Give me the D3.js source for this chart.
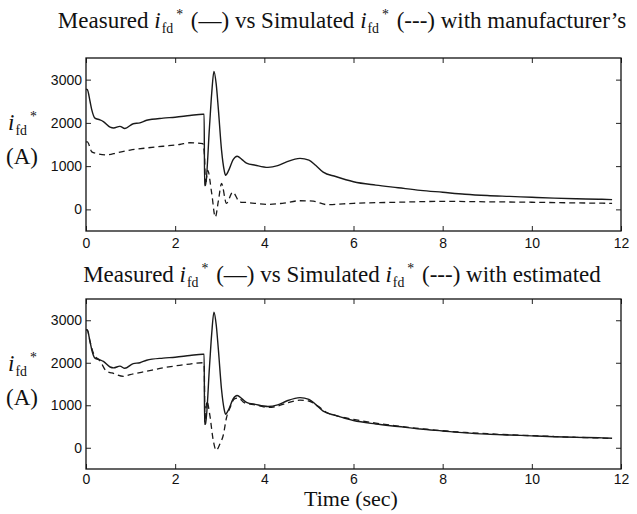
<!DOCTYPE html>
<html>
<head>
<meta charset="utf-8">
<script src="https://cdn.jsdelivr.net/npm/d3@7"></script>
<style>
  body { margin:0; background:#fff; }
  svg { display:block; }
</style>
</head>
<body>
<svg id="svg" width="637" height="514"></svg>
<script>
// measured field current (same record in both panels)
var measuredT=[0,0.03,0.09,0.13,0.2,0.31,0.39,0.54,0.62,0.76,0.87,1.06,1.21,1.36,1.73,2.0,2.33,2.62,2.65,2.66,2.68,2.77,2.82,2.87,2.92,2.97,3.04,3.1,3.13,3.2,3.3,3.39,3.5,3.6,3.8,4.08,4.3,4.5,4.8,5.0,5.15,5.32,5.6,6.0,6.5,7.0,7.5,8.0,8.5,9.0,9.5,10.0,10.5,11.0,11.5,11.8];
var measuredI=[2780,2770,2500,2300,2110,2070,2030,1900,1880,1920,1870,1980,2000,2060,2110,2130,2170,2200,2200,550,560,1910,2690,3190,2900,2300,1370,900,790,900,1150,1230,1150,1070,1020,970,1010,1100,1180,1140,1020,860,760,640,560,500,440,395,350,320,300,280,260,245,235,225];

// simulated with manufacturer's parameters
var simManufT=[0,0.03,0.13,0.24,0.46,0.7,0.99,1.36,1.73,2.1,2.33,2.62,2.66,2.68,2.73,2.82,2.9,2.97,3.04,3.15,3.29,3.45,3.6,4.08,4.4,4.8,5.1,5.4,6.0,7.0,8.0,9.0,10.0,11.0,11.8];
var simManufI=[1560,1560,1330,1290,1260,1310,1370,1420,1460,1500,1540,1520,1200,560,900,370,-180,200,600,140,400,170,160,115,140,200,190,110,140,165,185,175,165,150,140];

// simulated with estimated parameters
var simEstT=[0,0.03,0.09,0.18,0.31,0.46,0.58,0.84,0.99,1.36,1.73,2.1,2.33,2.62,2.65,2.67,2.71,2.78,2.85,2.92,3.0,3.08,3.15,3.23,3.33,3.42,3.55,3.8,4.09,4.3,4.5,4.8,5.0,5.2,5.4,5.7,6.0,6.5,7.0,7.5,8.0,8.5,9.0,9.5,10.0,10.5,11.0,11.5,11.8];
var simEstI=[2780,2770,2500,2190,2050,1800,1760,1680,1720,1800,1880,1940,1970,2000,1950,600,1100,750,200,-60,80,300,700,940,1150,1170,1060,1010,950,980,1050,1120,1100,980,830,730,670,580,510,450,400,360,330,305,285,265,245,230,215];

var xTicks=[0,2,4,6,8,10,12];
var yTicks=[0,1000,2000,3000];
var titleEnds=["with manufacturer\u2019s","with estimated"];

var serif="'Liberation Serif','Times New Roman',serif";
var svg=d3.select("#svg");
var zip=(t,v)=>t.map((d,i)=>[d,v[i]]);

var panels=[
  {top:58,bottom:231,sim:zip(simManufT,simManufI),titleY:28,end:titleEnds[0],pad:7},
  {top:299,bottom:469,sim:zip(simEstT,simEstI),titleY:282,end:titleEnds[1],pad:5}
];

var x=d3.scaleLinear().domain([0,12]).range([86,621]);

//italic i with subscript fd and superscript star, back on baseline afterwards
function ifd(text,size){
  text.append("tspan").attr("font-style","italic").text("i");
  text.append("tspan").attr("font-size",size*0.6).attr("dx",1).attr("dy",size*0.22).text("fd");
  text.append("tspan").attr("font-size",size*0.6).attr("dx",3).attr("dy",-size*0.6).text("*");
}

panels.forEach(p=>{
  var y=d3.scaleLinear().domain([-500,3500]).range([p.bottom,p.top]);
  var g=svg.append("g");

  //title
  var t=svg.append("text")
      .attr("x",342).attr("y",p.titleY)
      .attr("text-anchor","middle")
      .style("font-family",serif)
      .style("font-size","23px").attr("fill","#111");
  t.append("tspan").text("Measured ");
  ifd(t,23);
  t.append("tspan").attr("dy",23*0.38).attr("dx",2).text(" (\u2014) vs Simulated ");
  ifd(t,23);
  t.append("tspan").attr("dy",23*0.38).attr("dx",2).text(" (---) "+p.end);

  //axes with inward ticks
  g.append("g").attr("transform","translate(0,"+p.bottom+")")
      .call(d3.axisBottom(x).tickValues(xTicks).tickSize(-5).tickPadding(p.pad).tickFormat(d3.format("d")));
  g.append("g").attr("transform","translate(0,"+p.top+")")
      .call(d3.axisTop(x).tickValues(xTicks).tickSize(-5).tickFormat(""));
  g.append("g").attr("transform","translate(86,0)")
      .call(d3.axisLeft(y).tickValues(yTicks).tickSize(-5).tickPadding(4).tickFormat(d3.format("d")));
  g.append("g").attr("transform","translate(621,0)")
      .call(d3.axisRight(y).tickValues(yTicks).tickSize(-5).tickFormat(""));
  g.selectAll(".domain").remove();
  g.selectAll(".tick line").attr("stroke","#222");
  g.selectAll(".tick text")
      .style("font-family","'Liberation Sans',Arial,sans-serif")
      .style("font-size","14px").attr("fill","#111");

  g.append("rect").attr("x",86).attr("y",p.top)
      .attr("width",621-86).attr("height",p.bottom-p.top)
      .attr("fill","none").attr("stroke","#111").attr("stroke-width",1.3);

  //y label
  var yl=svg.append("text").attr("x",8).attr("y",p.top+72)
      .style("font-family",serif)
      .style("font-size","23px").attr("fill","#111");
  ifd(yl,23);
  svg.append("text").attr("x",6).attr("y",p.top+106)
      .style("font-family",serif)
      .style("font-size","23px").attr("fill","#111").text("(A)");

  var line=d3.line().curve(d3.curveMonotoneX).x(d=>x(d[0])).y(d=>y(d[1]));
  g.append("path").datum(zip(measuredT,measuredI))
      .attr("d",line).attr("fill","none").attr("stroke","#1a1a1a").attr("stroke-width",1.4);
  g.append("path").datum(p.sim)
      .attr("d",line).attr("fill","none").attr("stroke","#1a1a1a").attr("stroke-width",1.3)
      .attr("stroke-dasharray","6,4");
});

svg.append("text").attr("x",351).attr("y",506)
    .attr("text-anchor","middle")
    .style("font-family",serif)
    .style("font-size","22px").attr("fill","#111")
    .text("Time (sec)");
</script>
</body>
</html>
